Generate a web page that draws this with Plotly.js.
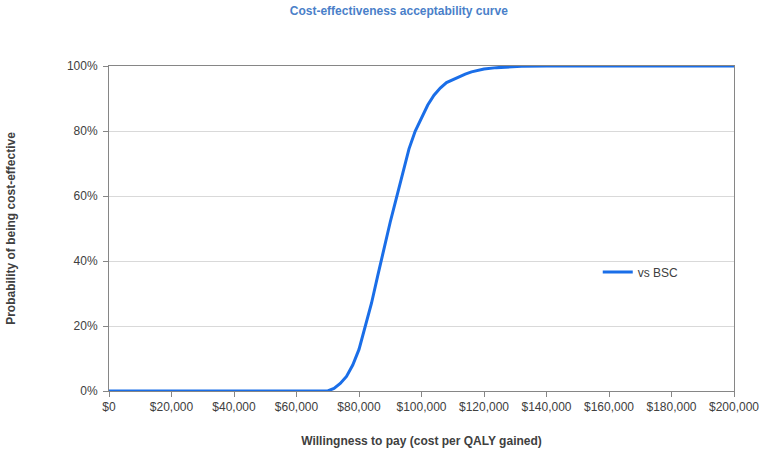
<!DOCTYPE html>
<html>
<head>
<meta charset="utf-8">
<script src="https://cdn.plot.ly/plotly-3.0.1.min.js"></script>
<style>
  body { margin: 0; background: #fff; }
  #ceac { width: 767px; height: 457px; }
</style>
</head>
<body>
<div id="ceac"></div>
<script>
// willingness to pay ($ per QALY) and probability cost-effective (%)
var wtp = [0, 10000, 20000, 30000, 40000, 50000, 60000, 70000,
  72000, 74000, 76000, 78000, 80000, 82000, 84000, 86000, 88000, 90000,
  92000, 94000, 96000, 98000, 100000, 102000, 104000, 106000, 108000,
  110000, 112000, 114000, 116000, 118000, 120000, 124000, 128000, 132000,
  140000, 160000, 180000, 200000];
var probVsBSC = [0, 0, 0, 0, 0, 0, 0, 0,
  0.8, 2.3, 4.5, 8, 12.8, 20, 27, 35.5, 44, 52,
  59.5, 67, 74.5, 80, 84.2, 88, 91, 93.2, 94.9,
  95.8, 96.6, 97.5, 98.2, 98.7, 99.1, 99.5, 99.8, 99.9,
  100, 100, 100, 100];

var trace = {
    x: wtp,
    y: probVsBSC,
    name: "vs BSC",
    type: "scatter",
    mode: "lines",
    line: {color: "#1a6ee8", width: 3}
};

var layout = {
    width: 767,
    height: 457,
    margin: {l: 109, r: 33, t: 66, b: 66},
    paper_bgcolor: "#ffffff",
    plot_bgcolor: "#ffffff",
    font: {family: "Liberation Sans, Arial, sans-serif", size: 12, color: "#404040"},
    title: {
        text: "<b>Cost-effectiveness acceptability curve</b>",
        font: {size: 12, color: "#4a7fc9"},
        x: 0.52, xref: "container", xanchor: "center",
        y: 0.985, yref: "container", yanchor: "top"
    },
    xaxis: {
        title: {text: "<b>Willingness to pay (cost per QALY gained)</b>", font: {size: 12, color: "#404040"}, standoff: 23},
        range: [0, 200000],
        dtick: 20000,
        tickprefix: "$",
        tickformat: ",d",
        showgrid: false,
        zeroline: false,
        showline: true,
        mirror: true,
        linecolor: "#868686",
        linewidth: 1,
        ticks: "outside",
        ticklen: 5,
        tickcolor: "#868686"
    },
    yaxis: {
        title: {text: "<b>Probability of being cost-effective</b>", font: {size: 12, color: "#404040"}, standoff: 48},
        range: [0, 100],
        dtick: 20,
        ticksuffix: "%",
        showgrid: true,
        gridcolor: "#d9d9d9",
        zeroline: false,
        showline: true,
        mirror: true,
        linecolor: "#868686",
        linewidth: 1,
        ticks: "outside",
        ticklen: 5,
        tickcolor: "#868686",
        ticklabelstandoff: 3
    },
    showlegend: true,
    legend: {
        x: 0.782, y: 0.366, xanchor: "left", yanchor: "middle",
        bgcolor: "rgba(0,0,0,0)",
        font: {size: 12, color: "#404040"}
    }
};

Plotly.newPlot("ceac", [trace], layout, {displayModeBar: false});
</script>
</body>
</html>
